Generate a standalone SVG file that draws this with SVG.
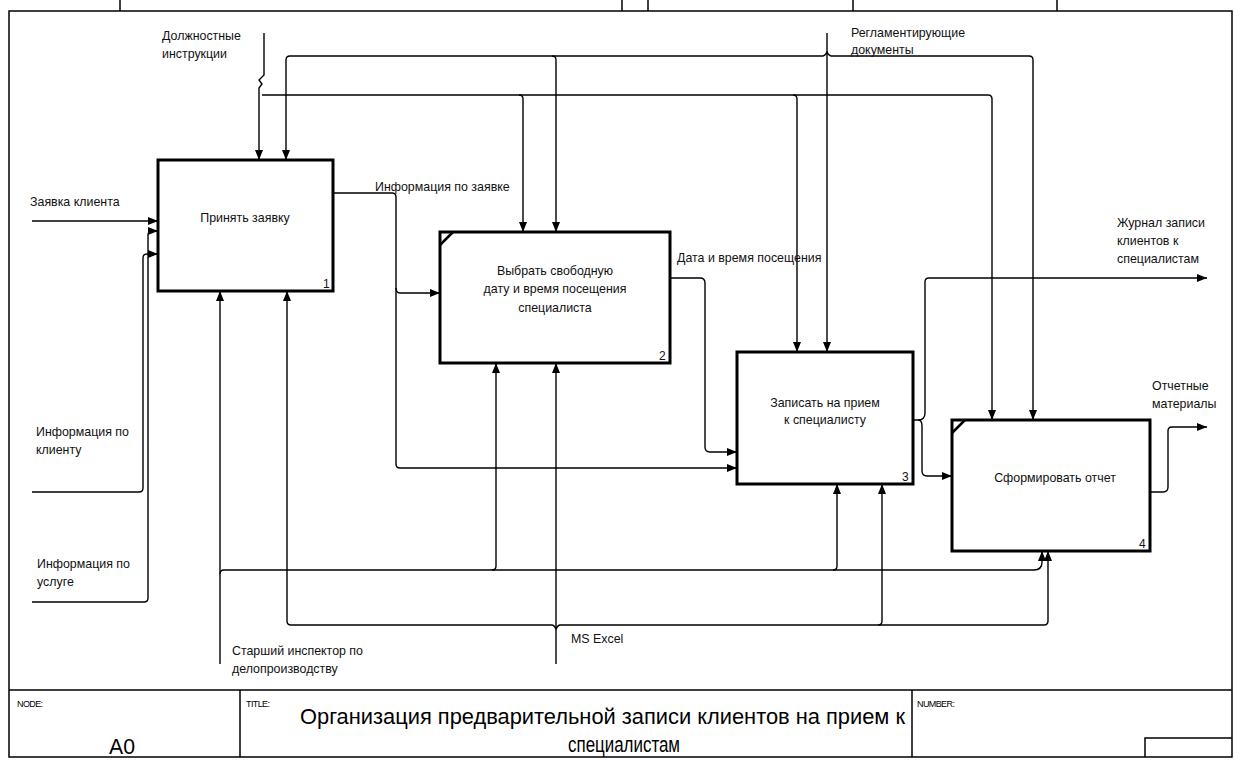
<svg xmlns="http://www.w3.org/2000/svg" width="1237" height="760" viewBox="0 0 1237 760">
<defs>
<marker id="ar" viewBox="0 0 10 10" refX="10" refY="5" markerWidth="10" markerHeight="8" markerUnits="userSpaceOnUse" orient="auto" preserveAspectRatio="none">
<path d="M0 0 L10 5 L0 10 Z" fill="#000"/>
</marker>
</defs>
<style>
.frame{fill:none;stroke:#000;stroke-width:1.5}
.box{fill:none;stroke:#000;stroke-width:3}
.ln{fill:none;stroke:#000;stroke-width:1.4}
.ar{marker-end:url(#ar)}
.t{font-family:"Liberation Sans",Arial,sans-serif;font-size:12.4px;fill:#111}
.c{text-anchor:middle}
.n{font-family:"Liberation Sans",Arial,sans-serif;font-size:12px;fill:#111}
.s{font-family:"Liberation Sans",Arial,sans-serif;font-size:9px;fill:#000;letter-spacing:-0.6px}
.big{font-family:"Liberation Sans",Arial,sans-serif;font-size:22px;fill:#000}
</style>
<rect x="0" y="0" width="1237" height="760" fill="#fff"/>
<g id="frame">
<rect x="9" y="11" width="1223" height="746" fill="#FFFAEF" class="frame"/>
<path class="frame" d="M120 0V11M622 0V11M648 0V11M853 0V11M1057 0V11"/>
<path class="frame" d="M9 690H1232M240 690V757M912 690V757M1145 757V738H1232"/>
<text class="s" x="17" y="707">NODE:</text>
<text class="s" x="246" y="707">TITLE:</text>
<text class="s" x="917" y="707">NUMBER:</text>
<text class="big" x="109" y="754" textLength="26" lengthAdjust="spacingAndGlyphs">A0</text>
<text class="big" x="300" y="724" textLength="605" lengthAdjust="spacingAndGlyphs">Организация предварительной записи клиентов на прием к</text>
<text class="big" x="568" y="752" textLength="112" lengthAdjust="spacingAndGlyphs">специалистам</text>
</g>
<g id="connectors">
<path class="ln ar" d="M264 33V75L259 80L262 84L259 88V160"/>
<path class="ln ar" d="M262 95H988Q992 95 992 99V420"/>
<path class="ln ar" d="M519 95Q523 95 523 99V232"/>
<path class="ln ar" d="M793 95Q797 95 797 99V352"/>
<path class="ln ar" d="M827 33V352"/>
<path class="ln ar" d="M823 56Q825 56 827 52Q829 56 831 56H1029Q1033 56 1033 60V420"/>
<path class="ln ar" d="M823 56H290Q286 56 286 60V160"/>
<path class="ln ar" d="M552 56Q556 56 556 60V232"/>
<path class="ln ar" d="M32 221H158"/>
<path class="ln ar" d="M32 492H139Q143 492 143 488V258Q143 254 147 254H158"/>
<path class="ln ar" d="M32 602H144Q148 602 148 598V235Q148 231 152 231H158"/>
<path class="ln ar" d="M333 193H392Q396 193 396 197V464Q396 468 400 468H737"/>
<path class="ln ar" d="M396 288Q396 293 400 293H440"/>
<path class="ln ar" d="M670 278H700Q705 278 705 283V447Q705 452 710 452H737"/>
<path class="ln ar" d="M913 420H918Q925 420 925 413V282Q925 278 929 278H1207"/>
<path class="ln ar" d="M918 420Q922 420 922 426V471Q922 476 927 476H952"/>
<path class="ln ar" d="M1150 492H1163Q1168 492 1168 487V431Q1168 427 1172 427H1207"/>
<path class="ln ar" d="M220 664V291"/>
<path class="ln ar" d="M220 574Q220 570 224 570H1034Q1042 570 1042 562V551"/>
<path class="ln ar" d="M492 570Q496 570 496 566V363"/>
<path class="ln ar" d="M833 570Q837 570 837 566V484"/>
<path class="ln ar" d="M556 664V363"/>
<path class="ln ar" d="M552 625Q554 625 556 629Q558 625 560 625H1044Q1048 625 1048 621V551"/>
<path class="ln ar" d="M552 625H291Q287 625 287 621V291"/>
<path class="ln ar" d="M878 625Q882 625 882 621V484"/>
</g>
<g id="labels">
<text class="t" x="162" y="40">Должностные</text>
<text class="t" x="162" y="58">инструкции</text>
<text class="t" x="851" y="37">Регламентирующие</text>
<text class="t" x="851" y="54">документы</text>
<text class="t" x="30" y="206">Заявка клиента</text>
<text class="t" x="375" y="191">Информация по заявке</text>
<text class="t" x="677" y="262">Дата и время посещения</text>
<text class="t" x="1117" y="227">Журнал записи</text>
<text class="t" x="1117" y="245">клиентов к</text>
<text class="t" x="1117" y="263">специалистам</text>
<text class="t" x="1152" y="390">Отчетные</text>
<text class="t" x="1152" y="408">материалы</text>
<text class="t" x="36" y="436">Информация по</text>
<text class="t" x="36" y="454">клиенту</text>
<text class="t" x="37" y="568">Информация по</text>
<text class="t" x="37" y="586">услуге</text>
<text class="t" x="232" y="655">Старший инспектор по</text>
<text class="t" x="232" y="673">делопроизводству</text>
<text class="t" x="571" y="643">MS Excel</text>
</g>
<g id="box1">
<rect class="box" x="158" y="160" width="175" height="131" fill="#FFFAEF"/>
<text class="t c" x="245" y="222">Принять заявку</text>
<text class="n" x="323" y="288">1</text>
</g>
<g id="box2">
<rect class="box" x="440" y="232" width="230" height="131" fill="#FFFAEF"/>
<path d="M440 245L453 232" stroke="#000" stroke-width="2.5"/>
<text class="t c" x="555" y="275">Выбрать свободную</text>
<text class="t c" x="555" y="293">дату и время посещения</text>
<text class="t c" x="555" y="312">специалиста</text>
<text class="n" x="659" y="360">2</text>
</g>
<g id="box3">
<rect class="box" x="737" y="352" width="176" height="132" fill="#FFFAEF"/>
<text class="t c" x="825" y="407">Записать на прием</text>
<text class="t c" x="825" y="424">к специалисту</text>
<text class="n" x="902" y="481">3</text>
</g>
<g id="box4">
<rect class="box" x="952" y="420" width="198" height="131" fill="#FFFAEF"/>
<path d="M952 433L965 420" stroke="#000" stroke-width="2.5"/>
<text class="t c" x="1055" y="482">Сформировать отчет</text>
<text class="n" x="1139" y="548">4</text>
</g>
</svg>
